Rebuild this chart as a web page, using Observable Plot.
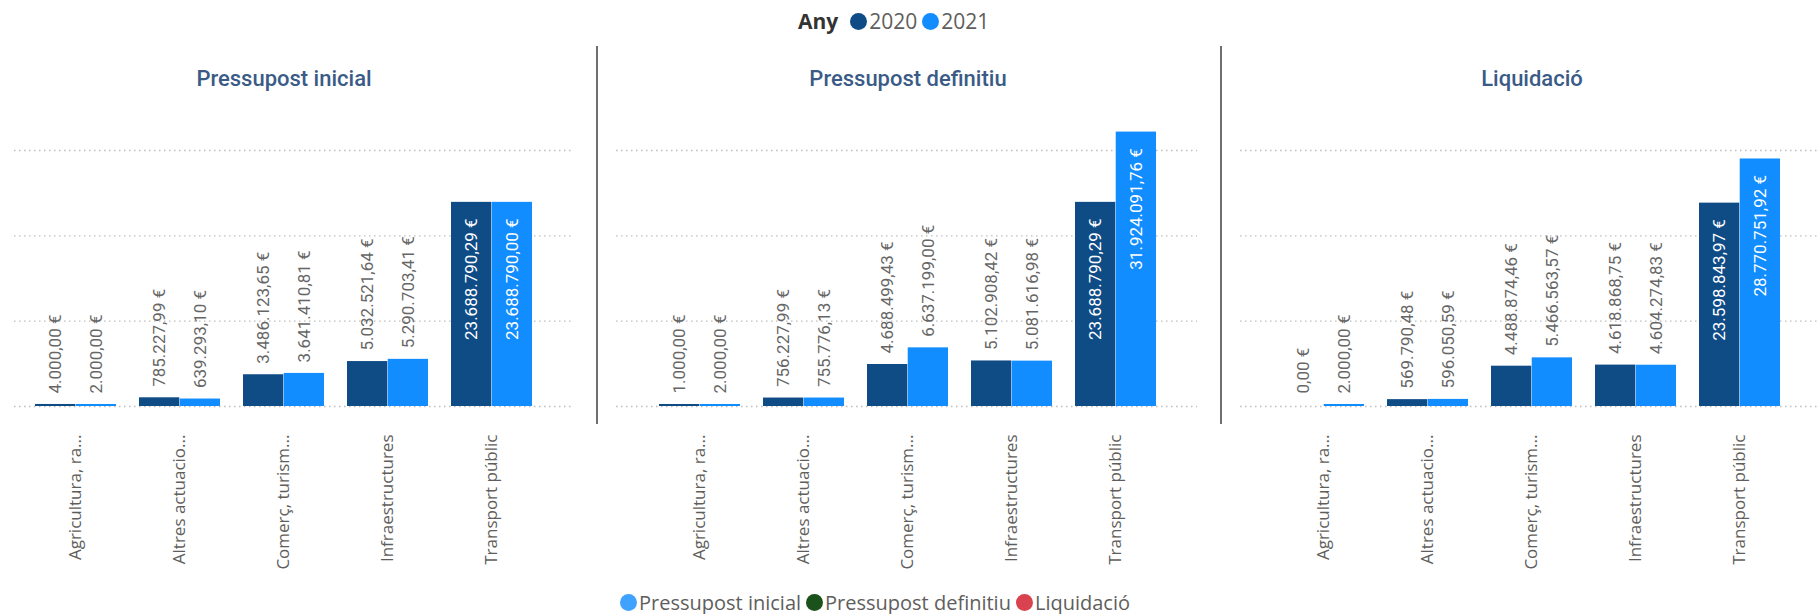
<!DOCTYPE html>
<html>
<head>
<meta charset="utf-8">
<script src="https://cdn.jsdelivr.net/npm/d3@7"></script>
<script src="https://cdn.jsdelivr.net/npm/@observablehq/plot@0.6"></script>
<style>
  html, body { margin: 0; padding: 0; background: #fff; overflow: hidden; width: 1818px; height: 614px; }
  #root { position: relative; width: 1818px; height: 614px; overflow: hidden; }
  #top-legend { position: absolute; left: 798px; top: 0; height: 42px; display: flex; align-items: center; font-family: "Open Sans", sans-serif; font-size: 21px; color: #605E5C; white-space: nowrap; }
  #top-legend .ttl { font-weight: 700; color: #333; margin-right: 12px; }
  .item { display: inline-flex; align-items: center; margin-right: 5px; }
  .dot { display: inline-block; width: 17px; height: 17px; border-radius: 50%; margin-right: 2px; }
  .panel { position: absolute; top: 42px; width: 624px; }
  .panel svg { max-width: none !important; }
  .sep { position: absolute; top: 46px; height: 378px; width: 2px; background: #6f6f6f; }
  #bottom-legend { position: absolute; left: 620px; top: 590px; height: 24px; display: flex; align-items: center; font-family: "Open Sans", sans-serif; font-size: 20px; color: #605E5C; white-space: nowrap; }
</style>
</head>
<body>
<div id="root">
  <div id="top-legend"></div>
  <div id="panels"></div>
  <div id="bottom-legend"></div>
</div>
<script>
// ---- data ----
const categories = ["Agricultura, ra...", "Altres actuacio...", "Comerç, turism...", "Infraestructures", "Transport públic"];
const years = ["2020", "2021"];
const panelTitles = ["Pressupost inicial", "Pressupost definitiu", "Liquidació"];
const inicial2020 = [4000.00, 785227.99, 3486123.65, 5032521.64, 23688790.29];
const inicial2021 = [2000.00, 639293.10, 3641410.81, 5290703.41, 23688790.00];
const definitiu2020 = [1000.00, 756227.99, 4688499.43, 5102908.42, 23688790.29];
const definitiu2021 = [2000.00, 755776.13, 6637199.00, 5081616.98, 31924091.76];
const liquidacio2020 = [0.00, 569790.48, 4488874.46, 4618868.75, 23598843.97];
const liquidacio2021 = [2000.00, 596050.59, 5466563.57, 4604274.83, 28770751.92];
const yTicks = [0, 10e6, 20e6, 30e6];
const yearColors = ["#0F4C86", "#118DFF"];
const measureLegend = ["Pressupost inicial", "Pressupost definitiu", "Liquidació"];
const measureColors = ["#3FA2FF", "#1B521B", "#D9434F"];

const panelSeries = [
  [inicial2020, inicial2021],
  [definitiu2020, definitiu2021],
  [liquidacio2020, liquidacio2021]
];

// ---- formatting ----
const loc = d3.formatLocale({decimal: ",", thousands: ".", grouping: [3], currency: ["", " €"]});
const fmt = loc.format("$,.2f");

// ---- layout ----
const W = 624, H = 548;
const mL = 38, mR = 41, mT = 108, mB = 184;
const pad = 0.22;
const step = (W - mL - mR) / (categories.length - pad + 2 * pad);
const bw = step * (1 - pad);
const panelLefts = [-27, 597, 1221];
const gridInsets = [[3, -17], [-19, -17], [-19, -17]];

const panelsEl = document.getElementById("panels");

panelSeries.forEach((series, p) => {
  const rows = years.map((yr, k) => categories.map((c, i) => ({category: c, year: yr, value: series[k][i]})));
  const inside = d => d.value > 15e6;
  const marks = [
    Plot.ruleY(yTicks, {stroke: "#bdbdbd", strokeDasharray: "1.5,3.5", strokeWidth: 1.3, insetLeft: gridInsets[p][0], insetRight: gridInsets[p][1]}),
    Plot.barY(rows[0].filter(d => d.value > 0), {x: "category", y: "value", fill: yearColors[0], insetLeft: 0, insetRight: bw / 2, insetTop: -2}),
    Plot.barY(rows[1].filter(d => d.value > 0), {x: "category", y: "value", fill: yearColors[1], insetLeft: bw / 2, insetRight: 0, insetTop: -2}),
  ];
  rows.forEach((r, k) => {
    const dx = (k === 0 ? -1 : 1) * bw / 4;
    marks.push(Plot.text(r.filter(d => !inside(d)), {
      x: "category", y: "value", text: d => fmt(d.value), rotate: -90,
      textAnchor: "start", dx, dy: -13, fill: "#666666", fontSize: 17, fontFamily: "Roboto"
    }));
    marks.push(Plot.text(r.filter(inside), {
      x: "category", y: "value", text: d => fmt(d.value), rotate: -90,
      textAnchor: "end", dx, dy: 14, fill: "#ffffff", fontSize: 17, fontFamily: "Roboto"
    }));
  });
  marks.push(Plot.text([panelTitles[p]], {
    frameAnchor: "top", text: d => d, dy: -80, fill: "#3B5B87",
    fontSize: 22, fontWeight: 500, fontFamily: "Roboto"
  }));

  const chart = Plot.plot({
    width: W, height: H,
    marginLeft: mL, marginRight: mR, marginTop: mT, marginBottom: mB,
    style: {fontFamily: "Open Sans", fontSize: "17px", color: "#605E5C", background: "transparent", overflow: "visible", maxWidth: "none"},
    x: {type: "band", domain: categories, padding: pad, tickRotate: -90, tickSize: 0, tickPadding: 28, label: null},
    y: {domain: [0, 30e6], axis: null},
    marks
  });
  const wrap = document.createElement("div");
  wrap.className = "panel";
  wrap.style.left = panelLefts[p] + "px";
  wrap.appendChild(chart);
  panelsEl.appendChild(wrap);
});

// separators
[597, 1221].forEach(x => {
  const s = document.createElement("div");
  s.className = "sep";
  s.style.left = (x - 1) + "px";
  document.getElementById("root").appendChild(s);
});

// top legend
const tl = document.getElementById("top-legend");
tl.innerHTML = `<span class="ttl">Any</span>` + years.map((y, i) =>
  `<span class="item"><span class="dot" style="background:${yearColors[i]}"></span>${y}</span>`).join("");

// bottom legend
const bl = document.getElementById("bottom-legend");
bl.innerHTML = measureLegend.map((m, i) =>
  `<span class="item"><span class="dot" style="background:${measureColors[i]}"></span>${m}</span>`).join("");
</script>
</body>
</html>
